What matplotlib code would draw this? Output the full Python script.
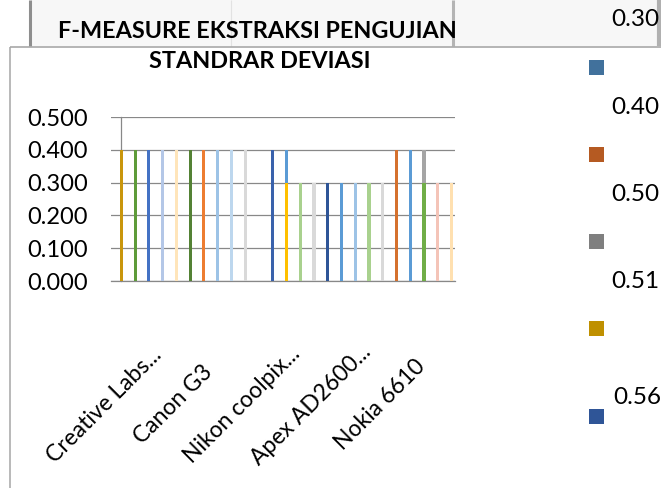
import matplotlib
matplotlib.use("Agg")
import matplotlib.pyplot as plt
from matplotlib.patches import Rectangle
from matplotlib.lines import Line2D
import numpy as np

# ---------------- data ----------------
categories = ["Creative Labs...", "Canon G3", "Nikon coolpix...", "Apex AD2600...", "Nokia 6610"]

# five bar slots per category (None = no bar). "back" bars are drawn first,
# "front" bars are drawn on top of them in the same slot.
back_values = [
    [0.4, 0.4, 0.4, 0.4, 0.4],
    [0.4, 0.4, 0.4, 0.4, 0.4],
    [None, 0.4, 0.4, 0.3, 0.3],
    [0.3, 0.3, 0.3, 0.3, 0.3],
    [0.4, 0.4, 0.4, 0.3, 0.3],
]
back_colors = [
    ["#C9960C", "#5E9B3A", "#4472C4", "#B4C7E7", "#FFE5BA"],
    ["#548235", "#ED7D31", "#9DC3E6", "#BDD7EE", "#D9D9D9"],
    [None, "#3A62AC", "#5B9BD5", "#A9D18E", "#D9D9D9"],
    ["#2F5597", "#5B9BD5", "#9DC3E6", "#A9D18E", "#D9D9D9"],
    ["#D5712E", "#5B9BD5", "#A5A5A5", "#F4C4B8", "#FFE0B0"],
]
front_values = [
    [None, None, None, None, None],
    [None, None, None, None, None],
    [None, None, 0.3, None, None],
    [None, None, None, None, None],
    [None, None, 0.3, None, None],
]
front_colors = [
    [None] * 5,
    [None] * 5,
    [None, None, "#FFC000", None, None],
    [None] * 5,
    [None, None, "#70AD47", None, None],
]

y_ticks = [0.0, 0.1, 0.2, 0.3, 0.4, 0.5]

legend_labels = ["0.30", "0.40", "0.50", "0.51", "0.56"]
legend_colors = ["#41719C", "#B55A22", "#7F7F7F", "#BF9000", "#2F5597"]

title_line1 = "F-MEASURE EKSTRAKSI PENGUJIAN"
title_line2 = "STANDRAR DEVIASI"

# ---------------- layout ----------------
W, H = 661, 488
def fx(px):
    return px / W
def fy(py):
    return 1 - py / H

plt.rcParams["font.family"] = ["Lato", "DejaVu Sans"]

fig = plt.figure(figsize=(W / 100, H / 100), dpi=100)
fig.patch.set_facecolor("white")

# spreadsheet band at the top
fig.add_artist(Rectangle((fx(31), fy(46)), fx(630), 46 / H, transform=fig.transFigure,
                         facecolor="#F7F7F7", edgecolor="none", zorder=0))
def fig_line(x0, y0, x1, y1, color, lw):
    fig.add_artist(Line2D([fx(x0), fx(x1)], [fy(y0), fy(y1)], transform=fig.transFigure,
                          color=color, lw=lw, solid_capstyle="butt", zorder=1))
fig_line(29.5, 0, 29.5, 46, "#8E8E8E", 2.2)
fig_line(231, 0, 231, 46, "#E2E2E2", 0.8)
fig_line(452.5, 0, 452.5, 46, "#B4B4B4", 2.2)
fig_line(659, 0, 659, 46, "#B0B0B0", 3.0)
fig_line(10, 46.5, 661, 46.5, "#A0A0A0", 1.1)
fig_line(10, 46.5, 10, 488, "#A6A6A6", 1.1)

# titles
fig.text(fx(257), fy(32), title_line1, ha="center", va="center",
         fontsize=16.8, fontweight="bold", color="#000000", zorder=5)
fig.text(fx(260), fy(62), title_line2, ha="center", va="center",
         fontsize=16.8, fontweight="bold", color="#000000", zorder=5)

# axes
ax = fig.add_axes([fx(111), (H - 281) / H, 344 / W, 164 / H])
ax.set_xlim(0, len(categories))
ax.set_ylim(0, 0.5)

slot_start = 0.15
slot_step = 0.2
bar_w = 0.045

for i in range(len(categories)):
    for j in range(5):
        x = i + slot_start + j * slot_step
        if back_values[i][j] is not None:
            ax.bar(x, back_values[i][j], width=bar_w, color=back_colors[i][j], zorder=3, linewidth=0)
        if front_values[i][j] is not None:
            ax.bar(x, front_values[i][j], width=bar_w, color=front_colors[i][j], zorder=4, linewidth=0)

ax.set_yticks(y_ticks)
ax.set_yticklabels([f"{v:.3f}" for v in y_ticks])
ax.yaxis.grid(True, color="#888888", lw=0.9)
ax.set_axisbelow(True)
ax.set_xticks([])

for s in ["top", "right"]:
    ax.spines[s].set_visible(False)
ax.spines["bottom"].set_color("#888888")
ax.spines["bottom"].set_linewidth(0.9)
ax.spines["left"].set_color("#888888")
ax.spines["left"].set_linewidth(0.9)
ax.spines["left"].set_position(("data", slot_start))
spine_px = 111 + slot_start * 344 / len(categories)
ax.tick_params(axis="y", length=0, pad=(spine_px - 88) * 0.72, labelsize=17, labelcolor="#000000")

for i, cat in enumerate(categories):
    ax.annotate(cat, xy=(i + 0.5, 0), xycoords=("data", "axes fraction"),
                xytext=(-41, -124), textcoords="offset pixels",
                rotation=45, rotation_mode="anchor", ha="center", va="center",
                fontsize=16.5, color="#000000", annotation_clip=False)

# legend column on the right
for k, (lab, col) in enumerate(zip(legend_labels, legend_colors)):
    my = 67 + k * 87.3
    fig.add_artist(Rectangle((fx(589), fy(my + 7.5)), 15 / W, 15 / H, transform=fig.transFigure,
                             facecolor=col, edgecolor="none", zorder=5))
    ly = my - (19 if k == len(legend_labels) - 1 else 47)
    lx = 613 if k == len(legend_labels) - 1 else 611
    fig.text(fx(lx), fy(ly), lab, ha="left", va="center", fontsize=17.5, color="#000000", zorder=5)

fig.savefig("out.png", dpi=100)
